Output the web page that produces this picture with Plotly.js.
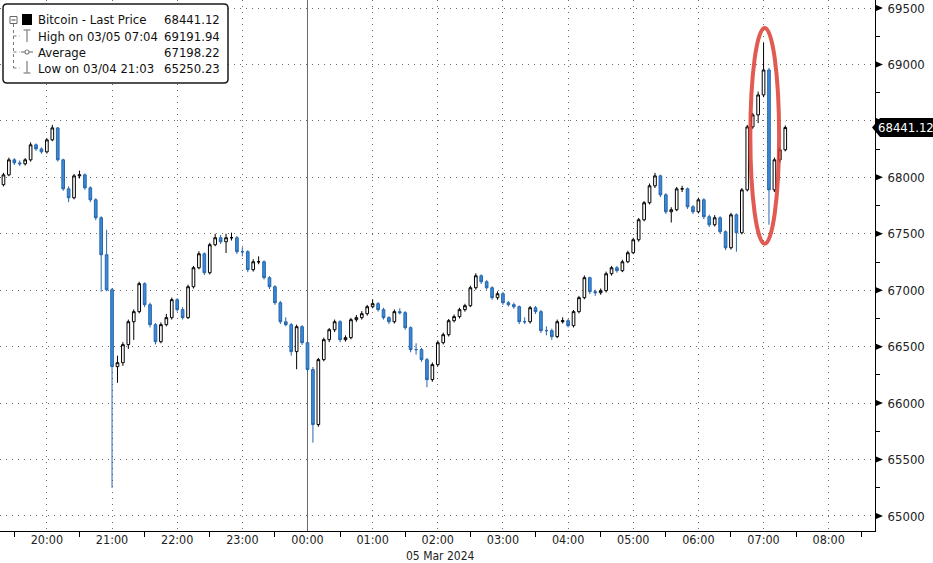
<!DOCTYPE html>
<html>
<head>
<meta charset="utf-8">
<script src="https://cdn.plot.ly/plotly-3.0.1.min.js"></script>
<style>html,body{margin:0;padding:0;background:#fff;}#chart{width:933px;height:563px;}</style>
</head>
<body>
<div id="chart"></div>
<script>
// ---- DATA (5-minute bars, Bitcoin, 04-05 Mar 2024) ----
const barStart = '2024-03-04 19:20';
const barMinutes = 5;

const opens = [67935,68022,68155,68128,68120,68155,68288,68252,68226,68332,
68438,68155,67898,67819,68013,68022,67907,67801,67642,67314,
67004,66323,66358,66518,66721,66810,67058,66872,66695,66544,
66695,66757,66916,66828,66757,67031,67199,67323,67155,67403,
67465,67429,67465,67465,67341,67341,67182,67252,67252,67111,
67031,66889,66721,66695,66456,66677,66535,66297,65810,66385,
66562,66650,66721,66562,66580,66739,66757,66792,66854,66881,
66828,66757,66721,66810,66801,66668,66474,66474,66385,66208,
66341,66535,66606,66730,66766,66828,66863,67022,67128,67075,
67022,66934,66969,66889,66872,66854,66721,66721,66845,66810,
66642,66642,66589,66721,66730,66686,66810,66934,67111,66987,
66978,66996,67146,67199,67173,67252,67332,67447,67624,67775,
67925,68013,67845,67695,67713,67898,67898,67739,67695,67801,
67651,67580,67642,67518,67376,67668,67509,67889,68447,68553,
68730,68951,67889,68155,68244];

const closes = [68022,68155,68128,68120,68155,68288,68252,68226,68332,68438,
68155,67898,67819,68013,68022,67907,67801,67642,67314,67004,
66323,66358,66518,66721,66810,67058,66872,66695,66544,66695,
66757,66916,66828,66757,67031,67199,67323,67155,67403,67465,
67429,67465,67465,67341,67341,67182,67252,67252,67111,67031,
66889,66721,66695,66456,66677,66535,66297,65810,66385,66562,
66650,66721,66562,66580,66739,66757,66792,66854,66881,66828,
66757,66721,66810,66801,66668,66474,66474,66385,66208,66341,
66535,66606,66730,66766,66828,66863,67022,67128,67075,67022,
66934,66969,66889,66872,66854,66721,66721,66845,66810,66642,
66642,66589,66721,66730,66686,66810,66934,67111,66987,66978,
66996,67146,67199,67173,67252,67332,67447,67624,67775,67925,
68013,67845,67695,67713,67898,67898,67739,67695,67801,67651,
67580,67642,67518,67376,67668,67509,67889,68447,68553,68730,
68951,67889,68155,68244,68441.12];

const highs = [68040,68175,68170,68150,68170,68310,68300,68265,68345,68465,
68445,68165,67920,68030,68060,68035,67920,67815,67655,67535,
67020,66420,66540,66740,66830,67075,67070,66890,66710,66715,
66790,66935,66930,66850,67050,67215,67345,67335,67420,67500,
67490,67500,67510,67480,67380,67355,67275,67300,67265,67125,
67045,66905,66760,66710,66695,66690,66550,66320,66400,66580,
66665,66740,66735,66600,66755,66780,66815,66870,66920,66895,
66845,66770,66830,66840,66815,66680,66530,66490,66400,66360,
66555,66625,66745,66785,66845,66880,67040,67150,67140,67090,
67035,66990,66985,66905,66890,66865,66760,66860,66860,66825,
66680,66660,66740,66760,66745,66825,66950,67130,67120,67005,
67015,67165,67215,67215,67270,67350,67465,67640,67790,67945,
68040,68025,67860,67735,67915,67925,67910,67755,67820,67815,
67670,67665,67655,67530,67685,67680,67905,68465,68570,68760,
69191.94,68970,68175,68265,68460];

const lows = [67920,68010,68110,68100,68105,68140,68235,68210,68210,68320,
68140,67880,67780,67805,67990,67890,67780,67620,66987,66990,
65250.23,66180,66330,66480,66560,66795,66850,66670,66520,66530,
66680,66740,66810,66740,66745,67015,67185,67135,67140,67390,
67410,67330,67440,67320,67300,67160,67165,67230,67095,67010,
66870,66700,66680,66420,66300,66515,66270,65650,65790,66370,
66540,66630,66540,66545,66565,66720,66740,66775,66840,66810,
66740,66700,66705,66785,66650,66450,66430,66365,66140,66190,
66325,66520,66590,66715,66750,66810,66850,67005,67055,67005,
66915,66915,66870,66855,66835,66700,66700,66705,66790,66620,
66600,66560,66575,66705,66670,66670,66795,66920,66965,66950,
66960,66980,67130,67155,67160,67240,67320,67430,67610,67760,
67905,67825,67675,67600,67700,67870,67720,67675,67680,67630,
67560,67565,67500,67355,67360,67341,67495,67875,68430,68480,
68710,67580,67870,68130,68230];

const legendLabels = ['Bitcoin - Last Price', 'High on 03/05 07:04', 'Average', 'Low on 03/04 21:03'];
const legendValues = ['68441.12', '69191.94', '67198.22', '65250.23'];

const xTickVals = ['2024-03-04 20:00','2024-03-04 21:00','2024-03-04 22:00','2024-03-04 23:00',
  '2024-03-05 00:00','2024-03-05 01:00','2024-03-05 02:00','2024-03-05 03:00','2024-03-05 04:00',
  '2024-03-05 05:00','2024-03-05 06:00','2024-03-05 07:00','2024-03-05 08:00'];
const xTickText = ['20:00','21:00','22:00','23:00','00:00','01:00','02:00','03:00','04:00','05:00','06:00','07:00','08:00'];
const yTickVals = [65000,65500,66000,66500,67000,67500,68000,68500,69000,69500];
const dateLabel = '05 Mar 2024';
const dayBreak = '2024-03-05 00:00';

// ---- build bar times ----
function pad(n){return (n<10?'0':'')+n;}
const [sd, st] = barStart.split(' ');
const sDay = parseInt(sd.slice(8,10),10);
const sMin = parseInt(st.slice(0,2),10)*60 + parseInt(st.slice(3,5),10);
const times = closes.map((_, k) => {
  const m = sMin + k*barMinutes;
  const d = sDay + Math.floor(m/1440);
  const mm = m % 1440;
  return sd.slice(0,8) + pad(d) + ' ' + pad(Math.floor(mm/60)) + ':' + pad(mm%60);
});

// ---- geometry helpers (pixel -> paper) ----
const W = 933, H = 563, ML = 0, MR = 58, MT = 0, MB = 32;
const PW = W - ML - MR, PH = H - MT - MB;
const Y0 = 64867, Y1 = 69571;
const X = px => (px - ML) / PW;
const Y = py => 1 - (py - MT) / PH;
const unitsPerPx = (Y1 - Y0) / PH;

const FONT = '"DejaVu Sans Condensed", "DejaVu Sans", sans-serif';

const trace = {
  type: 'candlestick',
  x: times, open: opens, high: highs, low: lows, close: closes,
  increasing: {line: {color: '#000000', width: 1}, fillcolor: '#ffffff'},
  decreasing: {line: {color: '#2766ad', width: 1}, fillcolor: '#3a8ad8'},
  whiskerwidth: 0,
  hoverinfo: 'skip',
  showlegend: false
};

const shapes = [];
const annotations = [];

// day separator
shapes.push({type:'line', xref:'x', yref:'paper', x0:dayBreak, x1:dayBreak, y0:0, y1:1,
  line:{color:'#6b6b6b', width:1}, layer:'below'});

// red ellipse highlight
shapes.push({type:'circle', xref:'x', yref:'y',
  x0:'2024-03-05 06:47:50', x1:'2024-03-05 07:14:20', y0:67412, y1:69323,
  line:{color:'rgba(220,62,52,0.85)', width:4}, layer:'above'});

// y-axis tick triangles
yTickVals.forEach(v => {
  const h = 3 * unitsPerPx;
  shapes.push({type:'path', xref:'paper', yref:'y',
    path:`M ${X(876)},${v+h} L ${X(883)},${v} L ${X(876)},${v-h} Z`,
    fillcolor:'#000', line:{width:0}, layer:'above'});
});

// last price tag
const last = closes[closes.length-1];
{
  const h = 9.5 * unitsPerPx;
  shapes.push({type:'path', xref:'paper', yref:'y',
    path:`M ${X(872)},${last} L ${X(880)},${last+h} L ${X(933)},${last+h} L ${X(933)},${last-h} L ${X(880)},${last-h} Z`,
    fillcolor:'#000', line:{width:0}, layer:'above'});
  annotations.push({xref:'paper', yref:'y', x:X(906), y:last, text:last.toFixed(2),
    showarrow:false, xanchor:'center', yanchor:'middle', font:{family:FONT, size:13, color:'#fff'}});
}

// legend box (rounded)
{
  const x0=3, x1=228, y0=4, y1=83, r=4;
  const p = `M ${X(x0+r)},${Y(y0)} L ${X(x1-r)},${Y(y0)} Q ${X(x1)},${Y(y0)} ${X(x1)},${Y(y0+r)} ` +
            `L ${X(x1)},${Y(y1-r)} Q ${X(x1)},${Y(y1)} ${X(x1-r)},${Y(y1)} L ${X(x0+r)},${Y(y1)} ` +
            `Q ${X(x0)},${Y(y1)} ${X(x0)},${Y(y1-r)} L ${X(x0)},${Y(y0+r)} Q ${X(x0)},${Y(y0)} ${X(x0+r)},${Y(y0)} Z`;
  shapes.push({type:'path', xref:'paper', yref:'paper', path:p, fillcolor:'#ffffff',
    line:{color:'#1a1a1a', width:1.5}, layer:'above'});
  const rows = [20, 36, 52, 68];
  shapes.push({type:'rect', xref:'paper', yref:'paper', x0:X(10), x1:X(17), y0:Y(16.5), y1:Y(23.5),
    line:{color:'#666', width:1}, fillcolor:'#fff', layer:'above'});
  shapes.push({type:'line', xref:'paper', yref:'paper', x0:X(11.5), x1:X(15.5), y0:Y(20), y1:Y(20),
    line:{color:'#444', width:1}, layer:'above'});
  shapes.push({type:'line', xref:'paper', yref:'paper', x0:X(13.5), x1:X(13.5), y0:Y(24), y1:Y(68),
    line:{color:'#777', width:1, dash:'dot'}, layer:'above'});
  [36,52,68].forEach(r2 => shapes.push({type:'line', xref:'paper', yref:'paper', x0:X(13.5), x1:X(20), y0:Y(r2), y1:Y(r2),
    line:{color:'#777', width:1, dash:'dot'}, layer:'above'}));
  shapes.push({type:'rect', xref:'paper', yref:'paper', x0:X(22), x1:X(32), y0:Y(14), y1:Y(25),
    fillcolor:'#000', line:{width:0}, layer:'above'});
  shapes.push({type:'line', xref:'paper', yref:'paper', x0:X(23.5), x1:X(30.5), y0:Y(30), y1:Y(30), line:{color:'#888', width:1.3}, layer:'above'});
  shapes.push({type:'line', xref:'paper', yref:'paper', x0:X(27), x1:X(27), y0:Y(30), y1:Y(42), line:{color:'#888', width:1.3}, layer:'above'});
  shapes.push({type:'line', xref:'paper', yref:'paper', x0:X(21), x1:X(33), y0:Y(52), y1:Y(52), line:{color:'#888', width:1.3}, layer:'above'});
  shapes.push({type:'circle', xref:'paper', yref:'paper', x0:X(25), x1:X(29), y0:Y(50), y1:Y(54), line:{color:'#888', width:1.2}, fillcolor:'#fff', layer:'above'});
  shapes.push({type:'line', xref:'paper', yref:'paper', x0:X(27), x1:X(27), y0:Y(61), y1:Y(73), line:{color:'#888', width:1.3}, layer:'above'});
  shapes.push({type:'line', xref:'paper', yref:'paper', x0:X(23.5), x1:X(30.5), y0:Y(73), y1:Y(73), line:{color:'#888', width:1.3}, layer:'above'});

  legendLabels.forEach((t, i) => {
    annotations.push({xref:'paper', yref:'paper', x:X(36), y:Y(rows[i]), text:t, showarrow:false,
      xanchor:'left', yanchor:'middle', font:{family:FONT, size:13, color:'#111'}});
    annotations.push({xref:'paper', yref:'paper', x:X(222), y:Y(rows[i]), text:legendValues[i], showarrow:false,
      xanchor:'right', yanchor:'middle', font:{family:FONT, size:13, color:'#111'}});
  });
}

// date label under axis
annotations.push({xref:'paper', yref:'paper', x:X(440), y:Y(556), text:dateLabel, showarrow:false,
  xanchor:'center', yanchor:'middle', font:{family:FONT, size:12, color:'#222'}});

const layout = {
  width: W, height: H,
  margin: {l: ML, r: MR, t: MT, b: MB, pad: 0},
  paper_bgcolor: '#ffffff', plot_bgcolor: '#ffffff',
  showlegend: false,
  hovermode: false,
  boxgap: 0.3,
  font: {family: FONT, size: 13, color: '#222'},
  xaxis: {
    type: 'date',
    range: ['2024-03-04 19:16:49', '2024-03-05 08:42:38'],
    rangeslider: {visible: false},
    tickmode: 'array', tickvals: xTickVals, ticktext: xTickText,
    ticks: '', ticklen: 0, ticklabelstandoff: -3,
    tickfont: {family: FONT, size: 12.5, color: '#222'},
    showgrid: true, gridcolor: '#6a6a6a', gridwidth: 1, griddash: '1px,5px',
    showline: true, linecolor: '#000', linewidth: 1,
    zeroline: false, fixedrange: true,
    minor: {tickmode: 'linear', tick0: '2024-03-04 19:30', dtick: 3600000, ticks: 'outside', ticklen: 5, tickcolor: '#000', showgrid: false}
  },
  yaxis: {
    side: 'right',
    range: [Y0, Y1],
    tickmode: 'array', tickvals: yTickVals,
    ticktext: yTickVals.map(v => v === 68500 ? '' : String(v)),
    ticks: 'outside', ticklen: 9, tickcolor: 'rgba(0,0,0,0)',
    tickfont: {family: FONT, size: 13, color: '#222'},
    showgrid: true, gridcolor: '#6a6a6a', gridwidth: 1, griddash: '1px,5px',
    showline: true, linecolor: '#000', linewidth: 1,
    zeroline: false, fixedrange: true,
    minor: {tickmode: 'linear', tick0: 65250, dtick: 500, ticks: 'outside', ticklen: 4, tickcolor: '#000', showgrid: false}
  },
  shapes: shapes,
  annotations: annotations
};

Plotly.newPlot('chart', [trace], layout, {staticPlot: true, displayModeBar: false});
</script>
</body>
</html>
